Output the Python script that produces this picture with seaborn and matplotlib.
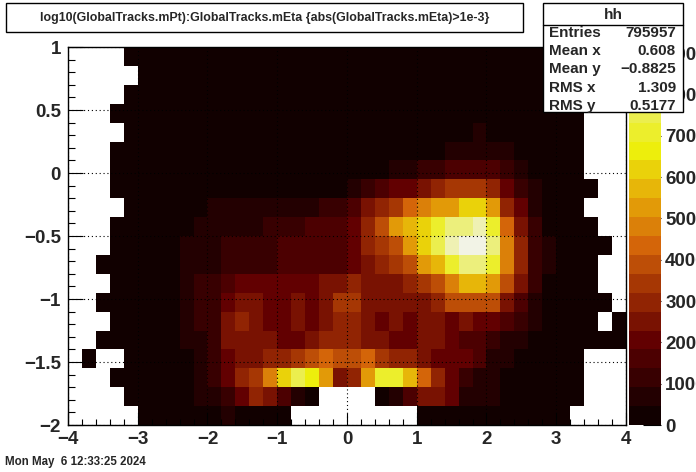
import numpy as np
import pandas as pd
import matplotlib
matplotlib.use("Agg")
import matplotlib.pyplot as plt
from matplotlib.colors import ListedColormap
from matplotlib.patches import Rectangle
from matplotlib.lines import Line2D
import seaborn as sns

# binning of the 2D histogram: x = GlobalTracks.mEta, y = log10(GlobalTracks.mPt)
x_min, x_max, n_xbins = -4.0, 4.0, 40
y_min, y_max, n_ybins = -2.0, 1.0, 20

# bin contents, top row (y = 0.85..1) first, 0 = empty bin
counts = [
    [0, 0, 0, 0, 150, 150, 150, 150, 150, 150, 150, 150, 150, 150, 150, 150, 150, 150, 150, 150, 150, 150, 150, 150, 150, 150, 150, 150, 150, 150, 150, 150, 150, 150, 150, 150, 150, 0, 0, 0],
    [0, 0, 0, 0, 0, 150, 150, 150, 150, 150, 150, 150, 150, 150, 150, 150, 150, 150, 150, 150, 150, 150, 150, 150, 150, 150, 150, 150, 150, 150, 150, 150, 150, 150, 150, 150, 150, 0, 0, 0],
    [0, 0, 0, 0, 150, 150, 150, 150, 150, 150, 150, 150, 150, 150, 150, 150, 150, 150, 150, 150, 150, 150, 150, 150, 150, 150, 150, 150, 150, 150, 150, 150, 150, 150, 150, 150, 150, 0, 0, 0],
    [0, 0, 0, 150, 150, 150, 150, 150, 150, 150, 150, 150, 150, 150, 150, 150, 150, 150, 150, 150, 150, 150, 150, 150, 150, 150, 150, 150, 150, 150, 150, 150, 150, 150, 150, 150, 150, 0, 0, 0],
    [0, 0, 0, 0, 150, 150, 150, 150, 150, 150, 150, 150, 150, 150, 150, 150, 150, 150, 150, 150, 150, 150, 150, 150, 150, 150, 150, 150, 150, 690, 150, 150, 150, 150, 150, 150, 150, 0, 0, 0],
    [0, 0, 0, 150, 150, 150, 150, 150, 150, 150, 150, 150, 150, 150, 150, 150, 150, 150, 150, 150, 150, 150, 150, 150, 150, 150, 150, 690, 690, 690, 690, 690, 150, 150, 150, 150, 150, 0, 0, 0],
    [0, 0, 0, 150, 150, 150, 150, 150, 150, 150, 150, 150, 150, 150, 150, 150, 150, 150, 150, 150, 150, 150, 150, 690, 690, 1140, 1140, 1600, 1600, 1600, 1600, 1140, 690, 150, 150, 150, 150, 0, 0, 0],
    [0, 0, 0, 150, 150, 150, 150, 150, 150, 150, 150, 150, 150, 150, 150, 150, 150, 150, 150, 150, 690, 1140, 1600, 2060, 2060, 2520, 2970, 3430, 3430, 3430, 2970, 2060, 1140, 690, 150, 150, 150, 150, 0, 0],
    [0, 0, 0, 0, 150, 150, 150, 150, 150, 150, 690, 690, 690, 690, 690, 690, 690, 690, 1140, 1140, 1600, 2520, 2970, 3430, 4350, 4800, 5260, 5260, 6180, 6180, 5260, 2970, 2060, 690, 150, 150, 150, 0, 0, 0],
    [0, 0, 0, 150, 150, 150, 150, 150, 150, 690, 690, 690, 690, 690, 1140, 1140, 1140, 1600, 1600, 1600, 2060, 2970, 3890, 5260, 5720, 6180, 7090, 8010, 8010, 8460, 7090, 4350, 2520, 1140, 150, 150, 150, 150, 0, 0],
    [0, 0, 0, 150, 150, 150, 150, 150, 690, 690, 690, 1140, 1140, 1140, 1140, 1600, 1600, 1600, 1600, 1600, 2060, 2970, 3430, 3890, 5260, 6180, 7550, 8460, 9150, 8920, 8010, 4800, 2970, 1140, 690, 150, 150, 150, 150, 0],
    [0, 0, 150, 150, 150, 150, 150, 150, 690, 690, 690, 1140, 1140, 1140, 1140, 1600, 1600, 1600, 1600, 1600, 2060, 2520, 2970, 3430, 3890, 5260, 5720, 7090, 8010, 8010, 7090, 4800, 2970, 1140, 690, 150, 150, 150, 0, 0],
    [0, 0, 0, 150, 150, 150, 150, 150, 690, 1140, 1140, 1600, 2060, 2060, 2060, 2060, 2060, 2060, 2520, 2520, 2970, 2520, 2520, 2520, 2970, 3430, 3890, 4800, 5720, 5720, 5260, 3890, 2520, 1140, 150, 150, 150, 150, 0, 0],
    [0, 0, 150, 150, 150, 150, 150, 150, 690, 1140, 1140, 2060, 2520, 2520, 2060, 2060, 2520, 2060, 2520, 3430, 3430, 2520, 2520, 2520, 2520, 2520, 2970, 3890, 3890, 3890, 3890, 2520, 1600, 690, 150, 150, 150, 150, 150, 0],
    [0, 0, 0, 150, 150, 150, 150, 150, 690, 1140, 1140, 2520, 2970, 2520, 2060, 2060, 2520, 2060, 2520, 2970, 2970, 2520, 2060, 2520, 2060, 2520, 2520, 2060, 2520, 2060, 2060, 1600, 1140, 690, 150, 150, 150, 150, 0, 150],
    [0, 0, 150, 150, 150, 150, 150, 150, 690, 690, 1140, 2520, 2520, 2520, 2520, 2060, 2060, 2520, 2970, 2970, 2970, 2520, 2520, 2060, 2060, 2520, 2520, 2060, 1600, 1600, 1140, 690, 690, 150, 150, 150, 150, 150, 150, 150],
    [0, 150, 0, 0, 150, 150, 150, 150, 150, 690, 1140, 2060, 2520, 2520, 2970, 2970, 3430, 3890, 4350, 3890, 3890, 4350, 3430, 2970, 2970, 2520, 2060, 2060, 2060, 1600, 690, 690, 150, 150, 150, 150, 150, 0, 0, 0],
    [0, 0, 0, 150, 150, 150, 150, 150, 150, 690, 1140, 2060, 2970, 3430, 4800, 6180, 7550, 6630, 5260, 2520, 2970, 5260, 7090, 7090, 5720, 4350, 2970, 2060, 1140, 690, 690, 150, 150, 150, 150, 150, 150, 0, 0, 0],
    [0, 0, 0, 0, 150, 150, 150, 150, 150, 690, 690, 1140, 2060, 2970, 2520, 1600, 690, 150, 0, 0, 0, 0, 150, 690, 1600, 2520, 2520, 2060, 690, 690, 690, 150, 150, 150, 150, 150, 150, 0, 0, 0],
    [0, 0, 0, 0, 0, 150, 150, 150, 150, 150, 150, 690, 150, 150, 150, 150, 0, 0, 0, 0, 0, 0, 0, 0, 0, 150, 150, 150, 150, 150, 150, 150, 150, 150, 150, 150, 0, 0, 0, 0],
]

x_ticks = [-4, -3, -2, -1, 0, 1, 2, 3, 4]
y_ticks = [-2, -1.5, -1, -0.5, 0, 0.5, 1]
z_ticks = [0, 1000, 2000, 3000, 4000, 5000, 6000, 7000, 8000, 9000]
z_max = 9150
n_levels = 20

title = "log10(GlobalTracks.mPt):GlobalTracks.mEta {abs(GlobalTracks.mEta)>1e-3}"
stat_names = ["Entries", "Mean x", "Mean y", "RMS x", "RMS y"]
stat_values = ["795957", "0.608", "\u22120.8825", "1.309", "0.5177"]
date_text = "Mon May  6 12:33:25 2024"

# ROOT dark body radiator palette, sampled the way COLZ picks its 20 contour colours
stops = np.linspace(0, 1, 9)
red = np.array([0, 45, 99, 156, 212, 230, 237, 234, 242]) / 255
green = np.array([0, 0, 0, 45, 101, 168, 238, 238, 243]) / 255
blue = np.array([0, 1, 1, 3, 9, 8, 11, 95, 230]) / 255
pos = np.array([int((k + 0.99) * 255 / n_levels) for k in range(n_levels)]) / 254
colors = np.column_stack([np.interp(pos, stops, red),
                          np.interp(pos, stops, green),
                          np.interp(pos, stops, blue)])
cmap = ListedColormap(colors)

sns.set_style("white")
plt.rcParams["font.family"] = ["Liberation Sans", "DejaVu Sans"]

W, H = 696, 472
fig = plt.figure(figsize=(W / 100, H / 100), dpi=100)
ax = fig.add_axes([68 / W, 47 / H, 558 / W, 378 / H])
cax = fig.add_axes([629 / W, 47 / H, 32 / W, 378 / H])

df = pd.DataFrame(counts)
sns.heatmap(df, mask=(df == 0), cmap=cmap, vmin=0, vmax=z_max, ax=ax, cbar_ax=cax,
            xticklabels=False, yticklabels=False, linewidths=0)


def xpos(v):
    return (v - x_min) / (x_max - x_min) * n_xbins


def ypos(v):
    return (y_max - v) / (y_max - y_min) * n_ybins


def fmt(v):
    return f"{v:g}".replace("-", "\u2212")


ax.set_xlim(0, n_xbins)
ax.set_ylim(n_ybins, 0)
ax.set_xticks([xpos(v) for v in x_ticks])
ax.set_xticklabels([fmt(v) for v in x_ticks])
ax.set_xticks([xpos(v) for v in np.arange(x_min, x_max + 0.01, 0.2)], minor=True)
ax.set_yticks([ypos(v) for v in y_ticks])
ax.set_yticklabels([fmt(v) for v in y_ticks])
ax.set_yticks([ypos(v) for v in np.arange(y_min, y_max + 0.01, 0.1)], minor=True)

ax.grid(True, which="major", color="black", linestyle=(0, (1, 2.5)), linewidth=0.8)
ax.set_axisbelow(False)
for s in ax.spines.values():
    s.set_visible(True)
    s.set_color("black")
    s.set_linewidth(1)

ax.tick_params(axis="both", which="both", direction="in", color="black", width=0.8,
               labelsize=13.5, bottom=True, left=True)
ax.tick_params(axis="x", which="major", length=8.5, pad=4)
ax.tick_params(axis="x", which="minor", length=4.3)
ax.tick_params(axis="y", which="major", length=10.8, pad=5)
ax.tick_params(axis="y", which="minor", length=5)
for lab in ax.get_xticklabels() + ax.get_yticklabels():
    lab.set_fontweight("bold")

cbar = ax.collections[0].colorbar
cbar.set_ticks(z_ticks)
cbar.set_ticklabels([str(z) for z in z_ticks])
cbar.outline.set_visible(False)
cax.tick_params(direction="in", length=13, width=0.8, labelsize=13.5, pad=3, color="black")
for lab in cax.get_yticklabels():
    lab.set_fontweight("bold")


def fx(px):
    return px / W


def fy(py):
    return 1 - py / H


# title box
fig.add_artist(Rectangle((fx(6), fy(32)), 517 / W, 29 / H, transform=fig.transFigure,
                         facecolor="white", edgecolor="black", lw=1, zorder=10))
fig.text(fx(264.5), fy(17.5), title, ha="center", va="center", fontsize=8.9,
         fontweight="bold", zorder=11)

# stats box, drawn over the top of the palette like ROOT does
fig.add_artist(Rectangle((fx(543), fy(112)), 140 / W, 109 / H, transform=fig.transFigure,
                         facecolor="white", edgecolor="black", lw=1, zorder=10))
fig.add_artist(Line2D([fx(543), fx(683)], [fy(25), fy(25)], transform=fig.transFigure,
                      color="black", lw=1, zorder=11))
fig.text(fx(613), fy(19), "hh", ha="center", va="baseline", fontsize=11,
         fontweight="bold", zorder=12)
for i, (name, val) in enumerate(zip(stat_names, stat_values)):
    yy = 37 + 18.2 * i
    fig.text(fx(549), fy(yy), name, ha="left", va="baseline", fontsize=11,
             fontweight="bold", zorder=12)
    fig.text(fx(676), fy(yy), val, ha="right", va="baseline", fontsize=11,
             fontweight="bold", zorder=12)

fig.text(fx(5), fy(462), date_text, ha="left", va="center", fontsize=8.3, fontweight="bold")

fig.savefig("out.png", dpi=100)
